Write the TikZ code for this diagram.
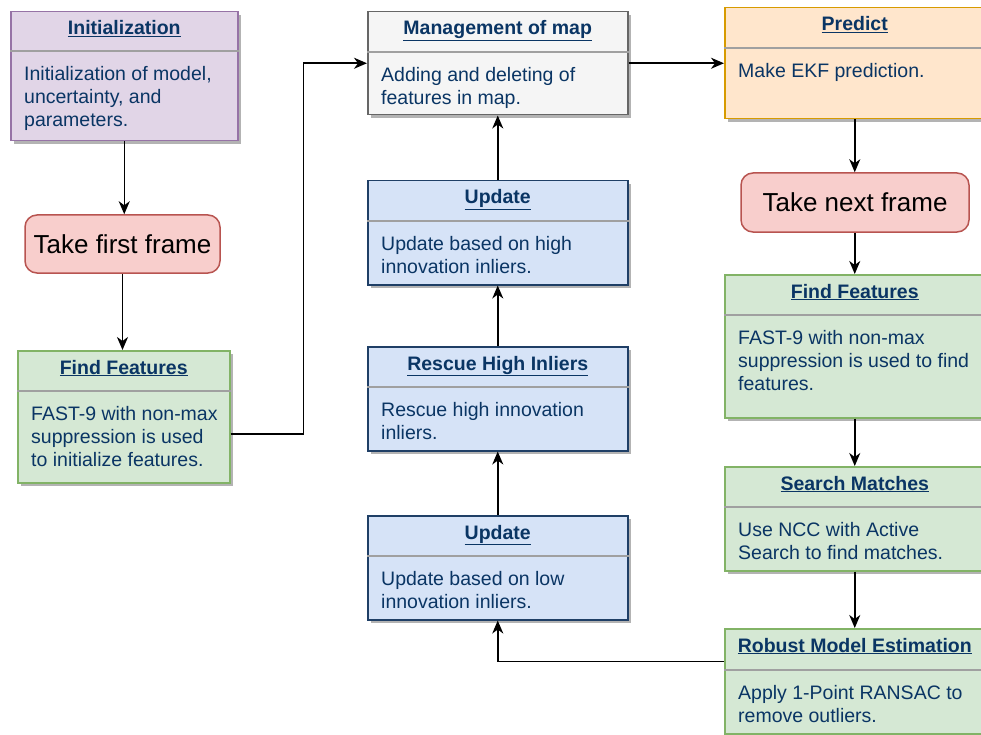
\documentclass[tikz,border=0pt]{standalone}
\usepackage{fontspec}
\setmainfont{Liberation Sans}
\usetikzlibrary{arrows.meta,shadows,calc}
\definecolor{txtblue}{HTML}{0A3564}
\definecolor{pfill}{HTML}{E1D5E7}\definecolor{pdraw}{HTML}{9673A6}
\definecolor{rfill}{HTML}{F8CECC}\definecolor{rdraw}{HTML}{B85450}
\definecolor{gfill}{HTML}{D5E8D4}\definecolor{gdraw}{HTML}{82B366}
\definecolor{sfill}{HTML}{F5F5F5}\definecolor{sdraw}{HTML}{666666}
\definecolor{bfill}{HTML}{D6E3F7}\definecolor{bdraw}{HTML}{1F3F66}
\definecolor{ofill}{HTML}{FFE6CC}\definecolor{odraw}{HTML}{D79B00}
\definecolor{divgray}{HTML}{A0A0A0}
\definecolor{shgray}{HTML}{B3B3B3}
\tikzset{
  umlbox/.style={draw,line width=1.5pt,inner sep=0pt,
    drop shadow={shadow xshift=3pt,shadow yshift=-3pt,fill=shgray,opacity=1}},
  purplebox/.style={fill=pfill,draw=pdraw},
  greenbox/.style={fill=gfill,draw=gdraw},
  graybox/.style={fill=sfill,draw=sdraw},
  bluebox/.style={fill=bfill,draw=bdraw},
  orangebox/.style={fill=ofill,draw=odraw},
  divline/.style={draw=divgray,line width=2pt},
  titletext/.style={inner sep=0pt,text=txtblue,font=\fontsize{19.5}{23}\selectfont\bfseries},
  bodytext/.style={inner sep=0pt,text=txtblue,align=left,font=\fontsize{19.5}{23}\selectfont},
  framebox/.style={draw=rdraw,fill=rfill,line width=1.5pt,rounded corners=12pt,
    font=\fontsize{26}{30}\selectfont,text=black},
  arr/.style={draw=black,line width=1.5pt,-{Stealth[length=13pt,width=11pt,inset=4pt]}},
}
\newcommand\mybox[9]{%
  \node[umlbox,#2,minimum width=#5,minimum height=#6,anchor=north west] (#1) at (#3,#4) {};
  \draw[divline] ([yshift=-#7]#1.north west) -- ([yshift=-#7]#1.north east);
  \node[titletext,anchor=base] at ([yshift=-24]#1.north) {\underline{#8}};
  \node[bodytext,anchor=north west] at ([xshift=14,yshift=-#7-15]#1.north west) {#9};
}
\begin{document}
\begin{tikzpicture}[x=1pt,y=-1pt]
\useasboundingbox[fill=white] (0,0) rectangle (981,735);
% left column
\mybox{init}{purplebox}{10}{11}{227}{129}{40}{Initialization}{Initialization of model,\\uncertainty, and\\parameters.}
\node[framebox,minimum width=195,minimum height=58] (first) at (122.5,244) {Take first frame};
\mybox{findL}{greenbox}{17}{350}{212}{132}{41}{Find Features}{FAST-9 with non-max\\suppression is used\\to initialize features.}
% middle column
\mybox{mgmt}{graybox}{367}{11}{260}{103}{41}{Management of map}{Adding and deleting of\\features in map.}
\mybox{upd1}{bluebox}{367}{180}{260}{104}{41}{Update}{Update based on high\\innovation inliers.}
\mybox{rescue}{bluebox}{367}{346}{260}{104}{41}{Rescue High Inliers}{Rescue high innovation\\inliers.}
\mybox{upd2}{bluebox}{367}{515}{260}{104}{41}{Update}{Update based on low\\innovation inliers.}
% right column
\mybox{predict}{orangebox}{724}{7}{260}{111}{41}{Predict}{Make EKF prediction.}
\node[framebox,minimum width=228,minimum height=59] (next) at (855,202.5) {Take next frame};
\mybox{findR}{greenbox}{724}{274}{260}{143}{41}{Find Features}{FAST-9 with non-max\\suppression is used to find\\features.}
\mybox{search}{greenbox}{724}{466}{260}{104}{41}{Search Matches}{Use NCC with Active\\Search to find matches.}
\mybox{robust}{greenbox}{724}{628}{260}{105}{42}{Robust Model Estimation}{Apply 1-Point RANSAC to\\remove outliers.}
% connectors
\draw[arr] (init.south) -- (init.south |- first.north);
\draw[arr] (first.south) -- (first.south |- findL.north);
\draw[arr] ([yshift=-17]findL.east) -- ++(73,0) |- (mgmt.west);
\draw[arr] (mgmt.east) -- (predict.west);
\draw[arr] (predict.south) -- (predict.south |- next.north);
\draw[arr] (predict.south |- next.south) -- (findR.north);
\draw[arr] (findR.south) -- (search.north);
\draw[arr] (search.south) -- (robust.north);
\draw[arr] ([yshift=20]robust.west) -| (upd2.south);
\draw[arr] (upd2.north) -- (rescue.south);
\draw[arr] (rescue.north) -- (upd1.south);
\draw[arr] (upd1.north) -- (mgmt.south);
\end{tikzpicture}
\end{document}
